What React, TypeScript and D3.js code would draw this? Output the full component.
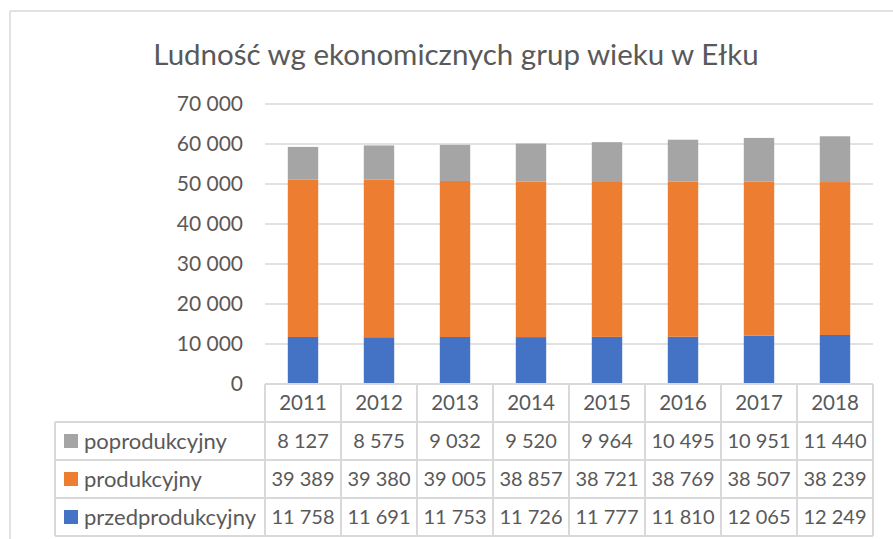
import * as d3 from "d3";
import React from "react";

const years = ["2011", "2012", "2013", "2014", "2015", "2016", "2017", "2018"];
const przedprodukcyjny = [11758, 11691, 11753, 11726, 11777, 11810, 12065, 12249];
const produkcyjny = [39389, 39380, 39005, 38857, 38721, 38769, 38507, 38239];
const poprodukcyjny = [8127, 8575, 9032, 9520, 9964, 10495, 10951, 11440];
const yTicks = [0, 10000, 20000, 30000, 40000, 50000, 60000, 70000];

const seriesNames = ["przedprodukcyjny", "produkcyjny", "poprodukcyjny"];
const colors = ["#4472C4", "#ED7D31", "#A5A5A5"];

const width = 893;
const height = 539;
const font = "Lato, 'Open Sans', sans-serif";
const textColor = "#595959";
const lineColor = "#D9D9D9";

const locale = d3.formatLocale({ decimal: ",", thousands: " ", grouping: [3], currency: ["", ""] });
const fmt = locale.format(",d");

export default function App() {
    const rows = years.map((year, i) => ({
        year,
        przedprodukcyjny: przedprodukcyjny[i],
        produkcyjny: produkcyjny[i],
        poprodukcyjny: poprodukcyjny[i],
    }));
    const stacked = d3.stack<any>().keys(seriesNames)(rows);

    const x = d3.scaleBand().domain(years).range([265, 873]).paddingInner(0.6).paddingOuter(0.3);
    const y = d3.scaleLinear().domain([0, 70000]).range([384, 104]);

    // table geometry
    const tableLeft = 55;
    const tableTop = y(0);
    const rowH = 38;
    const step = x.step();
    const colLeft = (i: number) => x.range()[0] + i * step;
    // rows listed top to bottom in the table
    const tableRows = [
        { name: "poprodukcyjny", values: poprodukcyjny, color: colors[2] },
        { name: "produkcyjny", values: produkcyjny, color: colors[1] },
        { name: "przedprodukcyjny", values: przedprodukcyjny, color: colors[0] },
    ];
    const tableBottom = tableTop + rowH * 4;

    return (
        <svg width={width} height={height} style={{ position: "absolute", left: 0, top: 0, background: "#fff" }}>
            {/* chart border */}
            <line x1={10} y1={11} x2={width} y2={11} stroke={lineColor} strokeWidth={1.5} />
            <line x1={10} y1={11} x2={10} y2={height} stroke={lineColor} strokeWidth={1.5} />

            <text x={456} y={65} textAnchor="middle" fontFamily={font} fontSize={29.5} fill={textColor}>
                Ludność wg ekonomicznych grup wieku w Ełku
            </text>

            {/* gridlines and y labels */}
            {yTicks.map((t) => (
                <g key={t}>
                    {t > 0 && (
                        <line x1={x.range()[0]} x2={x.range()[1]} y1={y(t)} y2={y(t)} stroke={lineColor} strokeWidth={1.5} />
                    )}
                    <text x={243} y={y(t)} dy="0.35em" textAnchor="end" fontFamily={font} fontSize={21} fill={textColor}>
                        {fmt(t)}
                    </text>
                </g>
            ))}

            {/* bars */}
            {stacked.map((s, si) => (
                <g key={s.key} fill={colors[si]}>
                    {s.map((d, i) => (
                        <rect
                            key={years[i]}
                            x={x(years[i])}
                            y={y(d[1])}
                            width={x.bandwidth()}
                            height={y(d[0]) - y(d[1])}
                        />
                    ))}
                </g>
            ))}

            {/* data table */}
            <g stroke={lineColor} strokeWidth={2} fill="none">
                <line x1={colLeft(0)} x2={x.range()[1]} y1={tableTop} y2={tableTop} />
                {[1, 2, 3, 4].map((r) => (
                    <line key={r} x1={tableLeft} x2={x.range()[1]} y1={tableTop + r * rowH} y2={tableTop + r * rowH} />
                ))}
                <line x1={tableLeft} x2={tableLeft} y1={tableTop + rowH} y2={tableBottom} />
                {years.map((_, i) => (
                    <line key={i} x1={colLeft(i)} x2={colLeft(i)} y1={tableTop} y2={tableBottom} />
                ))}
                <line x1={x.range()[1]} x2={x.range()[1]} y1={tableTop} y2={tableBottom} />
            </g>
            {years.map((yr) => (
                <text
                    key={yr}
                    x={x(yr)! + x.bandwidth() / 2}
                    y={tableTop + rowH / 2}
                    dy="0.35em"
                    textAnchor="middle"
                    fontFamily={font}
                    fontSize={20.5}
                    fill={textColor}
                >
                    {yr}
                </text>
            ))}
            {tableRows.map((row, r) => {
                const cy = tableTop + (r + 1) * rowH + rowH / 2;
                return (
                    <g key={row.name}>
                        <rect x={64} y={cy - 7} width={14} height={14} fill={row.color} />
                        <text x={84} y={cy} dy="0.35em" fontFamily={font} fontSize={22} fill={textColor}>
                            {row.name}
                        </text>
                        {row.values.map((v, i) => (
                            <text
                                key={i}
                                x={x(years[i])! + x.bandwidth() / 2}
                                y={cy}
                                dy="0.35em"
                                textAnchor="middle"
                                fontFamily={font}
                                fontSize={20}
                                fill={textColor}
                            >
                                {fmt(v)}
                            </text>
                        ))}
                    </g>
                );
            })}
        </svg>
    );
}
